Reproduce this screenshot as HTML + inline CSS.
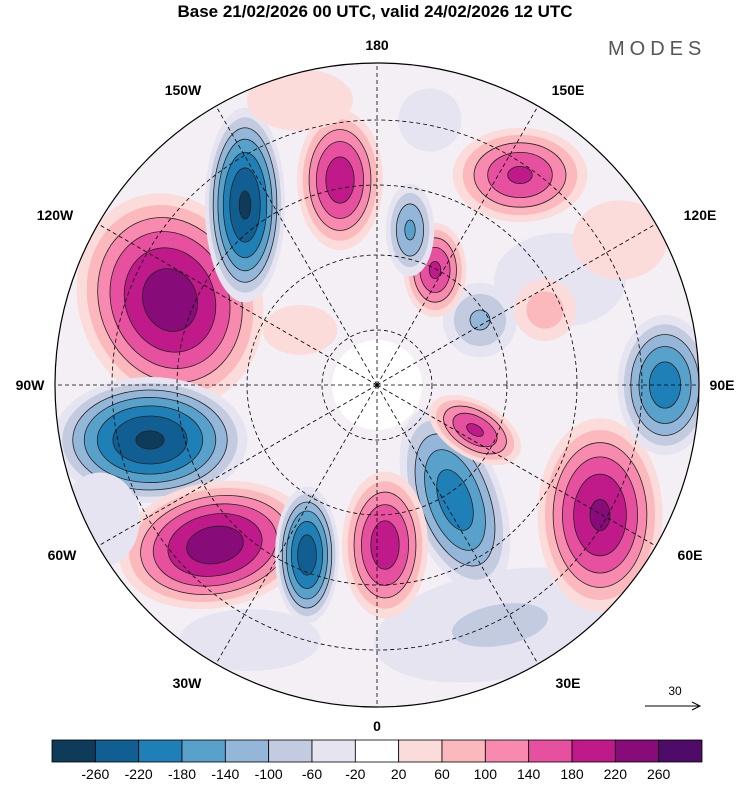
<!DOCTYPE html>
<html><head><meta charset="utf-8"><style>
body{margin:0;background:#fff;width:750px;height:783px;overflow:hidden;font-family:"Liberation Sans",sans-serif}
svg text{font-family:"Liberation Sans",sans-serif}
</style></head><body>
<svg id="chart" width="750" height="783">
<defs><clipPath id="disc"><circle cx="377" cy="385" r="322"/></clipPath></defs>
<text x="375" y="17" text-anchor="middle" font-size="17" font-weight="bold">Base 21/02/2026 00 UTC, valid 24/02/2026 12 UTC</text>
<text x="608" y="55" font-size="20" fill="#555" letter-spacing="5">MODES</text>
<g id="field" clip-path="url(#disc)"></g>
<g id="grat" clip-path="url(#disc)"></g>
<circle cx="377" cy="385" r="322" fill="none" stroke="#000" stroke-width="1.2"/>
<g id="labels" font-size="14" font-weight="bold"></g>
<g><text x="675" y="695" font-size="12" text-anchor="middle">30</text>
<line x1="645" y1="706" x2="700" y2="706" stroke="#000"/><path d="M692,702 L700,706 L692,710" fill="none" stroke="#000"/></g>
<g id="cbar"></g>
</svg>
<script>
const levels=[-260,-220,-180,-140,-100,-60,-20,20,60,100,140,180,220,260];
const colors=["#0e3b5a","#115f92","#1f80b8","#58a1cb","#93b6d9","#c3cbe0","#e6e4f0","#ffffff","#fbdcda","#fbb9be","#f78aae","#e6509e","#c01a8a","#870b78","#4f0b68"];
// blobs: [cx, cy, rx, ry, rotation, peak]
const blobX=[245,340,410,520,435,170,150,215,307,385,455,600,665,475,480,545,500,250,560,300,300,620,100,430];
const blobY=[205,180,230,175,270,300,440,545,555,545,500,515,385,430,320,310,625,640,280,100,330,240,520,120];
const blobRX=[35,38,22,60,28,80,85,85,28,38,42,55,42,45,35,30,130,80,70,60,60,60,50,40];
const blobRY=[85,62,42,42,42,95,55,55,60,65,85,85,62,25,35,30,55,35,50,35,40,50,60,40];
const blobRot=[0,0,0,0,0,-20,0,-10,0,0,-20,0,0,30,0,0,-10,0,0,0,0,0,0,0];
const blobPeak=[-270,210,-150,190,190,250,-270,250,-250,210,-210,230,-210,190,-110,90,-70,-50,-60,50,30,40,-40,-40];
const ns="http://www.w3.org/2000/svg";
function colorFor(v){let i=0;while(i<levels.length&&v>levels[i])i++;return colors[i];}
const field=document.getElementById('field');
const bg=document.createElementNS(ns,'circle');
bg.setAttribute('cx',377);bg.setAttribute('cy',385);bg.setAttribute('r',322);bg.setAttribute('fill','#f3eff5');


field.appendChild(bg);
const order=blobX.map((_,i)=>i).sort((a,b)=>blobRX[b]*blobRY[b]-blobRX[a]*blobRY[a]);
order.forEach(i=>{
  const p=blobPeak[i],s=Math.sign(p),a=Math.abs(p);
  const g=document.createElementNS(ns,'g');
  g.setAttribute('transform',`translate(${blobX[i]},${blobY[i]}) rotate(${blobRot[i]})`);
  
  
  for(let t=20;t<a;t+=40){
    const f=Math.pow(1-t/a,0.6)*1.2;
    const e=document.createElementNS(ns,'ellipse');
    e.setAttribute('rx',blobRX[i]*f);e.setAttribute('ry',blobRY[i]*f);
    e.setAttribute('fill',colorFor(s*(t+1)));
    if(t>=100){e.setAttribute('stroke','#222');e.setAttribute('stroke-width','0.8');}
    
    
    g.appendChild(e);
  }
  field.appendChild(g);
});
const pole=document.createElementNS(ns,'circle');
pole.setAttribute('cx',377);pole.setAttribute('cy',385);pole.setAttribute('r',45);pole.setAttribute('fill','#fff');


field.appendChild(pole);
const grat=document.getElementById('grat');
[55,130,200,265].forEach(r=>{const c=document.createElementNS(ns,'circle');
c.setAttribute('cx',377);c.setAttribute('cy',385);c.setAttribute('r',r);c.setAttribute('fill','none');
c.setAttribute('stroke','#000');c.setAttribute('stroke-dasharray','4,3');c.setAttribute('stroke-width','0.8');


grat.appendChild(c);});
for(let d=0;d<360;d+=30){const an=d*Math.PI/180;const l=document.createElementNS(ns,'line');
l.setAttribute('x1',377);l.setAttribute('y1',385);l.setAttribute('x2',377+330*Math.sin(an));l.setAttribute('y2',385+330*Math.cos(an));
l.setAttribute('stroke','#000');l.setAttribute('stroke-dasharray','4,3');l.setAttribute('stroke-width','0.8');


grat.appendChild(l);}
const labs=[["180",377,50],["150W",183,95],["150E",568,95],["120W",55,220],["120E",700,220],["90W",30,390],["90E",722,390],["60W",62,560],["60E",690,560],["30W",187,688],["30E",568,688],["0",377,731]];
const lg=document.getElementById('labels');
labs.forEach(L=>{const t=document.createElementNS(ns,'text');t.setAttribute('x',L[1]);t.setAttribute('y',L[2]);t.setAttribute('text-anchor','middle');t.textContent=L[0];


lg.appendChild(t);});
const cb=document.getElementById('cbar');
const x0=52,w=650/colors.length;
colors.forEach((c,i)=>{const r=document.createElementNS(ns,'rect');r.setAttribute('x',x0+i*w);r.setAttribute('y',740);r.setAttribute('width',w);r.setAttribute('height',22);r.setAttribute('fill',c);r.setAttribute('stroke','#000');r.setAttribute('stroke-width','0.8');


cb.appendChild(r);});
levels.forEach((v,i)=>{const t=document.createElementNS(ns,'text');t.setAttribute('x',x0+(i+1)*w);t.setAttribute('y',779);t.setAttribute('text-anchor','middle');t.setAttribute('font-size','14');t.textContent=v;


cb.appendChild(t);});
</script>
</body></html>
